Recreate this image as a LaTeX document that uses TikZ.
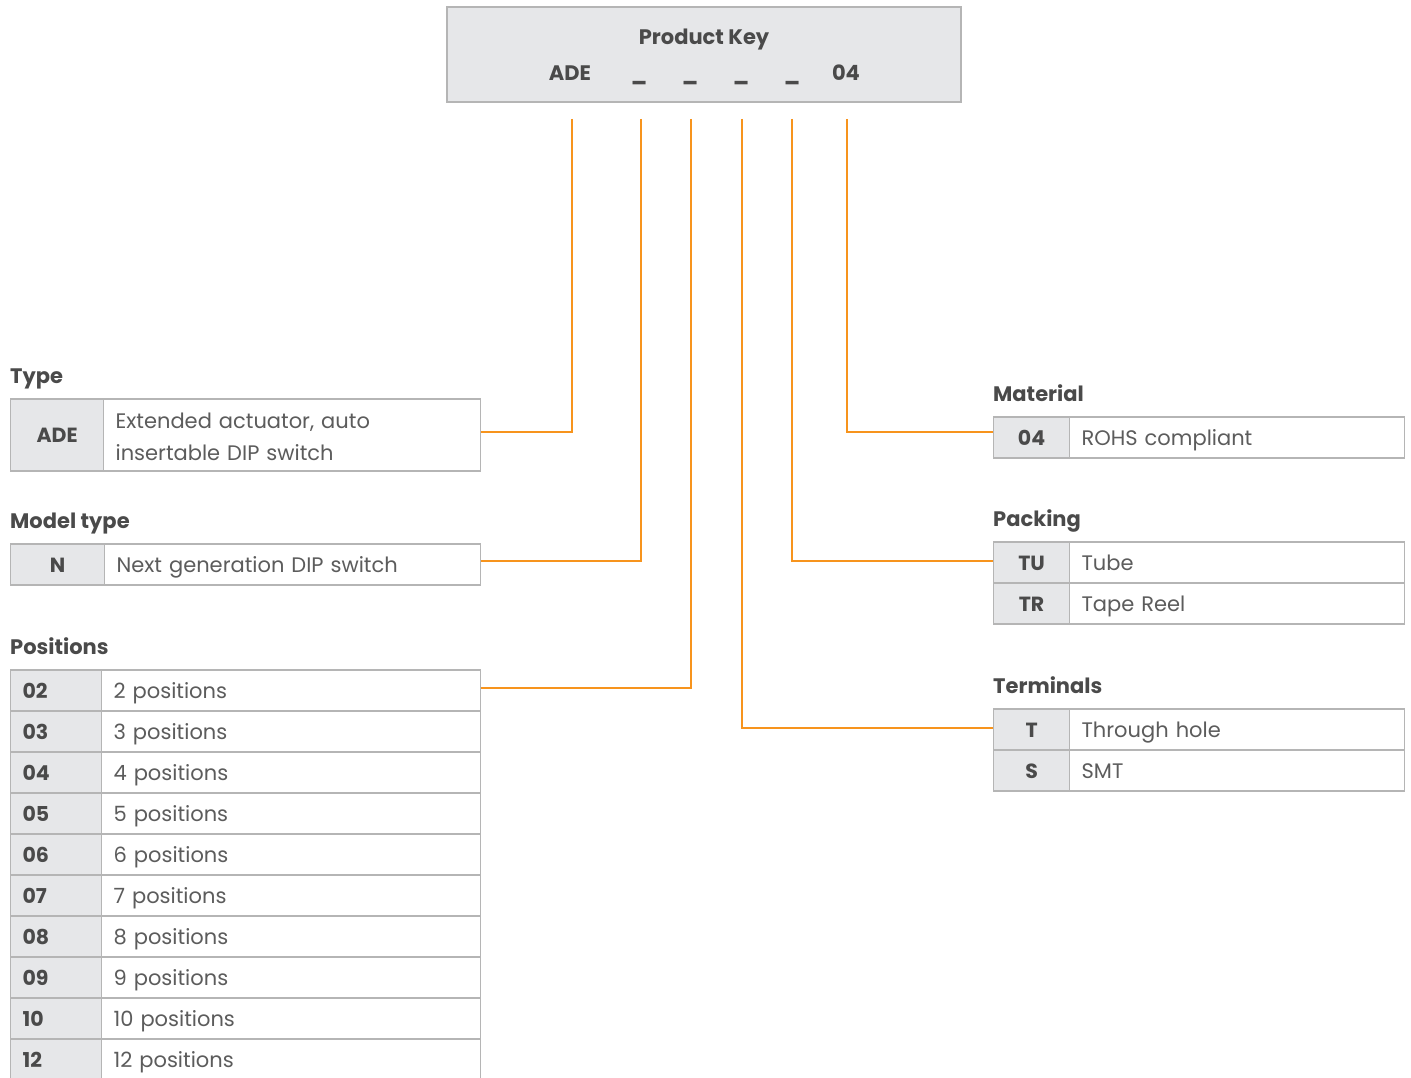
\documentclass[tikz,border=0pt]{standalone}
\usepackage{fontspec}
\setmainfont{Poppins}
\definecolor{keygray}{HTML}{E6E7E9}
\definecolor{rulegray}{HTML}{B5B5B5}
\definecolor{inkgray}{HTML}{4A4A4A}
\definecolor{descgray}{HTML}{5C5C5C}
\definecolor{leadorange}{HTML}{F7941D}
\tikzset{
  cell/.style={draw=rulegray,line width=1.2pt,inner ysep=0pt,anchor=west,text height=15pt,text depth=0pt},
  keycell/.style={cell,fill=keygray,text=inkgray,font=\fontsize{20.5}{24}\selectfont\bfseries},
  desccell/.style={cell,fill=white,text=descgray,align=left,inner xsep=12pt,
    font=\fontsize{21}{32}\selectfont},
  title/.style={anchor=base west,inner sep=0pt,text=inkgray,font=\fontsize{21}{24}\selectfont\bfseries},
  keytext/.style={anchor=base,inner sep=0pt,text=inkgray,font=\fontsize{21}{24}\selectfont\bfseries},
  lead/.style={leadorange,line width=1.4pt},
}

\begin{document}
\begin{tikzpicture}[x=1pt,y=-1pt]
   \useasboundingbox (0,0) rectangle (1411,1078);
   % product key
   \node (pk) at (704,54.5) [draw=rulegray,line width=1.2pt,fill=keygray,minimum width=514pt,minimum height=95pt] {};
   \node (pkTitle) at (704,45) [keytext] {Product Key};
   \node (pkADE) at (570,81) [keytext] {ADE};
   \node (pkU1) at (639,81) [keytext] {\_};
   \node (pkU2) at (690,81) [keytext] {\_};
   \node (pkU3) at (741,81) [keytext] {\_};
   \node (pkU4) at (792,81) [keytext] {\_};
   \node (pkEnd) at (846,81) [keytext] {04};
   \coordinate (legType) at (572,119);
   \coordinate (legModel) at (641,119);
   \coordinate (legPos) at (691,119);
   \coordinate (legTerm) at (742,119);
   \coordinate (legPack) at (792,119);
   \coordinate (legMat) at (847,119);

   % left tables
   \node (tType) at (10,383) [title] {Type};
   \node (typeK) at (10,435) [keycell,minimum width=93pt,minimum height=72pt] {ADE};
   \node (typeD) at (103,435) [desccell,text width=353pt,minimum height=72pt,
      text height=15pt,text depth=29pt] {Extended actuator, auto\\insertable DIP switch};

   \node (tModel) at (10,528) [title] {Model type};
   \node (modelK) at (10,564.5) [keycell,minimum width=94pt,minimum height=41pt] {N};
   \node (modelD) at (104,564.5) [desccell,text width=352pt,minimum height=41pt] {Next generation DIP switch};

   \node (tPos) at (10,654) [title] {Positions};
   \foreach \k/\n [count=\i from 0] in {02/2,03/3,04/4,05/5,06/6,07/7,08/8,09/9,10/10,12/12} {
      \node (posK\k) at (10,{690.5+41*\i}) [keycell,minimum width=91pt,minimum height=41pt,
         text width=67pt,inner xsep=12pt,align=left] {\k};
      \node (posD\k) at (101,{690.5+41*\i}) [desccell,text width=355pt,minimum height=41pt] {\n\ positions};
   }

   % right tables
   \node (tMat) at (993,401) [title] {Material};
   \node (matK) at (993,437.5) [keycell,minimum width=76pt,minimum height=41pt] {04};
   \node (matD) at (1069,437.5) [desccell,text width=311pt,minimum height=41pt] {ROHS compliant};

   \node (tPack) at (993,526) [title] {Packing};
   \node (packKTU) at (993,562.5) [keycell,minimum width=76pt,minimum height=41pt] {TU};
   \node (packDTU) at (1069,562.5) [desccell,text width=311pt,minimum height=41pt] {Tube};
   \node (packKTR) at (993,603.5) [keycell,minimum width=76pt,minimum height=41pt] {TR};
   \node (packDTR) at (1069,603.5) [desccell,text width=311pt,minimum height=41pt] {Tape Reel};

   \node (tTerm) at (993,693) [title] {Terminals};
   \node (termKT) at (993,729.5) [keycell,minimum width=76pt,minimum height=41pt] {T};
   \node (termDT) at (1069,729.5) [desccell,text width=311pt,minimum height=41pt] {Through hole};
   \node (termKS) at (993,770.5) [keycell,minimum width=76pt,minimum height=41pt] {S};
   \node (termDS) at (1069,770.5) [desccell,text width=311pt,minimum height=41pt] {SMT};

   % leads
   \draw[lead] (legType) |- ([yshift=3pt]typeD.east);
   \draw[lead] (legModel) |- ([yshift=3.5pt]modelD.east);
   \draw[lead] (legPos) |- ([yshift=2.5pt]posD02.east);
   \draw[lead] (legTerm) |- ([yshift=1.5pt]termKT.west);
   \draw[lead] (legPack) |- ([yshift=1.5pt]packKTU.west);
   \draw[lead] (legMat) |- ([yshift=5.5pt]matK.west);
\end{tikzpicture}
\end{document}
